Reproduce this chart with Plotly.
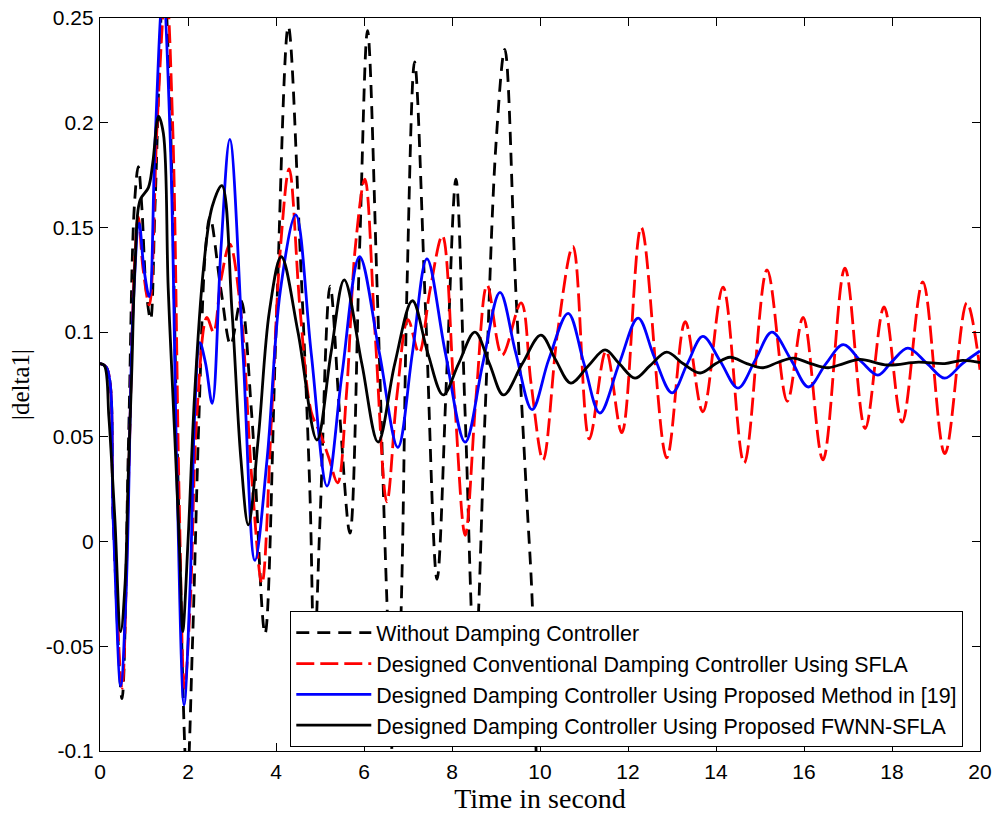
import plotly.graph_objects as go

# ---------------- data ----------------
names = [
    "Without Damping Controller",
    "Designed Conventional Damping Controller Using SFLA",
    "Designed Damping Controller Using Proposed Method in [19]",
    "Designed Damping Controller Using Proposed FWNN-SFLA",
]

t_nodamp = [0, 0.15, 0.3, 0.5, 0.65, 0.78, 0.87, 0.95, 1.05, 1.15, 1.25, 1.45, 1.6, 1.75,
            1.98, 2.1, 2.25, 2.4, 2.5, 2.75, 2.97, 3.2, 3.45, 3.75, 4.0, 4.28, 4.55, 4.77,
            4.87, 5.0, 5.23, 5.45, 5.68, 5.9, 6.08, 6.3, 6.52, 6.7, 6.85, 6.98, 7.15, 7.4,
            7.66, 7.88, 8.09, 8.3, 8.52, 8.75, 9.0, 9.2, 9.45, 9.7, 9.82, 9.93, 10.0]
v_nodamp = [0.085, 0.083, 0.01, -0.075, 0.05, 0.16, 0.179, 0.16, 0.12, 0.106, 0.16, 0.27, 0.2, 0.05,
            -0.115, -0.05, 0.06, 0.14, 0.155, 0.12, 0.094, 0.115, 0.06, -0.044, 0.1, 0.246, 0.138, 0.024,
            -0.055, 0.01, 0.122, 0.06, 0.004, 0.14, 0.244, 0.12, -0.028, -0.12, -0.028, 0.124, 0.229, 0.11,
            -0.018, 0.08, 0.173, 0.06, -0.06, 0.06, 0.19, 0.235, 0.12, 0.02, -0.027, -0.11, -0.13]

t_sfla = [0, 0.15, 0.3, 0.5, 0.65, 0.78, 0.87, 0.98, 1.12, 1.3, 1.5, 1.65, 1.8, 1.92, 2.05, 2.2,
          2.43, 2.58, 2.75, 2.95, 3.2, 3.45, 3.68, 3.9, 4.1, 4.3, 4.55, 4.8, 5.0, 5.2, 5.4, 5.6,
          5.8, 6.02, 6.25, 6.52, 6.75, 7.0, 7.25, 7.5, 7.78, 8.05, 8.3, 8.55, 8.8, 9.14, 9.57, 9.8,
          10.07, 10.4, 10.75, 11.12, 11.5, 11.86, 12.3, 12.88, 13.3, 13.7, 14.16, 14.64, 15.16,
          15.62, 15.98, 16.43, 16.93, 17.39, 17.82, 18.23, 18.7, 19.2, 19.7, 20.0]
v_sfla = [0.085, 0.083, 0.015, -0.07, 0.03, 0.13, 0.155, 0.13, 0.113, 0.2, 0.265, 0.2, 0.02, -0.07, -0.03, 0.06,
          0.107, 0.1, 0.125, 0.142, 0.11, 0.03, -0.02, 0.06, 0.14, 0.178, 0.11, 0.062, 0.052, 0.04, 0.028, 0.07,
          0.14, 0.173, 0.1, 0.019, 0.07, 0.106, 0.09, 0.12, 0.146, 0.07, 0.003, 0.07, 0.1225, 0.089, 0.114, 0.075,
          0.039, 0.1, 0.141, 0.049, 0.091, 0.052, 0.15, 0.04, 0.105, 0.062, 0.1215, 0.0375, 0.1297,
          0.067, 0.107, 0.039, 0.1306, 0.054, 0.112, 0.057, 0.124, 0.042, 0.114, 0.082]

t_ref19 = [0, 0.15, 0.3, 0.47, 0.6, 0.75, 0.89, 1.0, 1.12, 1.25, 1.43, 1.6, 1.75, 1.91, 2.05, 2.15,
           2.27, 2.4, 2.55, 2.75, 2.95, 3.25, 3.52, 3.8, 4.1, 4.45, 4.8, 5.16, 5.5, 5.9, 6.35, 6.77,
           7.1, 7.43, 7.85, 8.3, 8.7, 9.09, 9.45, 9.82, 10.2, 10.64, 11.0, 11.36, 11.8, 12.23, 12.6,
           13.0, 13.35, 13.7, 14.1, 14.5, 14.9, 15.27, 15.7, 16.1, 16.5, 16.89, 17.3, 17.68, 18.0,
           18.36, 18.8, 19.2, 19.6, 20.0]
v_ref19 = [0.085, 0.083, 0.01, -0.069, -0.02, 0.11, 0.152, 0.13, 0.117, 0.19, 0.262, 0.19, 0.03, -0.078, -0.02, 0.06,
           0.095, 0.085, 0.066, 0.14, 0.192, 0.09, -0.009, 0.04, 0.12, 0.156, 0.09, 0.0265, 0.08, 0.136, 0.09, 0.045,
           0.09, 0.135, 0.09, 0.0475, 0.085, 0.119, 0.09, 0.063, 0.087, 0.109, 0.085, 0.0614, 0.085, 0.1067, 0.088,
           0.071, 0.085, 0.098, 0.086, 0.0733, 0.087, 0.1, 0.087, 0.0738, 0.085, 0.094, 0.086, 0.0795, 0.086,
           0.0924, 0.085, 0.078, 0.085, 0.091]

t_fwnn = [0, 0.1, 0.2, 0.26, 0.34, 0.47, 0.57, 0.64, 0.72, 0.8, 0.91, 1.1, 1.2, 1.33, 1.44, 1.55,
          1.7, 1.82, 1.88, 2.0, 2.15, 2.35, 2.55, 2.77, 3.0, 3.2, 3.37, 3.6, 3.85, 4.12, 4.5, 4.93,
          5.25, 5.55, 5.95, 6.32, 6.7, 7.1, 7.45, 7.8, 8.15, 8.52, 8.85, 9.17, 9.6, 10.02, 10.35,
          10.7, 11.1, 11.48, 11.8, 12.16, 12.5, 12.88, 13.25, 13.64, 14.0, 14.32, 14.7, 15.07, 15.4,
          15.75, 16.15, 16.55, 16.9, 17.27, 17.9, 18.6, 19.2, 19.6, 20.0]
v_fwnn = [0.085, 0.084, 0.06, 0.04, 0.01, -0.043, -0.02, 0.03, 0.08, 0.134, 0.163, 0.169, 0.181, 0.203, 0.195, 0.121,
          0.05, -0.01, -0.043, 0.0, 0.07, 0.13, 0.16, 0.17, 0.11, 0.04, 0.008, 0.05, 0.11, 0.136, 0.1, 0.0485,
          0.09, 0.125, 0.085, 0.0475, 0.085, 0.115, 0.09, 0.07, 0.085, 0.1, 0.085, 0.07, 0.085, 0.0986, 0.087,
          0.0757, 0.084, 0.0915, 0.085, 0.078, 0.084, 0.0905, 0.085, 0.0805, 0.085, 0.088, 0.085, 0.083, 0.0855,
          0.0876, 0.085, 0.083, 0.085, 0.087, 0.0843, 0.0857, 0.085, 0.0865, 0.0855]

y_tickvals = [-0.1, -0.05, 0, 0.05, 0.1, 0.15, 0.2, 0.25]
y_ticktext = ["-0.1", "-0.05", "0", "0.05", "0.1", "0.15", "0.2", "0.25"]
x_tickvals = [0, 2, 4, 6, 8, 10, 12, 14, 16, 18, 20]

# ---------------- figure ----------------
series = [
    (t_nodamp, v_nodamp, "black", "13px,8px"),
    (t_sfla, v_sfla, "#ff0000", "18px,6px"),
    (t_ref19, v_ref19, "#0000ff", "solid"),
    (t_fwnn, v_fwnn, "black", "solid"),
]

fig = go.Figure()
for i, (tx, vy, col, dash) in enumerate(series):
    fig.add_trace(go.Scatter(
        x=tx, y=vy, mode="lines", name=names[i], legendgroup=f"g{i}",
        line=dict(color=col, width=2.8, dash=dash, shape="spline", smoothing=1.0),
    ))

axis_common = dict(
    showline=True, linecolor="black", linewidth=1.3, mirror="ticks",
    ticks="inside", ticklen=8, tickwidth=1, tickcolor="black",
    showgrid=False, zeroline=False, automargin=False, ticklabeloverflow="allow",
    tickfont=dict(family="Liberation Sans, Arial, sans-serif", size=21, color="black"),
)

fig.update_xaxes(range=[0, 20], tickvals=x_tickvals, ticklabelstandoff=2,
                 title=dict(text="Time in second", standoff=0,
                            font=dict(family="Liberation Serif, Times New Roman, serif", size=28, color="black")),
                 **axis_common)
fig.update_yaxes(range=[-0.1, 0.25], tickvals=y_tickvals, ticktext=y_ticktext, ticklabelstandoff=1,
                 title=dict(text="|delta1|", standoff=9,
                            font=dict(family="Liberation Serif, Times New Roman, serif", size=25, color="black")),
                 **axis_common)

fig.update_layout(
    width=994, height=818,
    margin=dict(l=100, r=14, t=18, b=67),
    paper_bgcolor="white", plot_bgcolor="white",
    legend=dict(x=0.2159, y=0.191, xanchor="left", yanchor="top",
                bgcolor="white", bordercolor="black", borderwidth=1.3,
                font=dict(family="Liberation Sans, Arial, sans-serif", size=21.4, color="black"),
                itemwidth=75, tracegroupgap=0, traceorder="normal"),
)

# remove the browser's default 8 px body margin so the figure fills the window exactly
fig.write_html("out.html", config={"displayModeBar": False},
               post_script="document.body.style.margin='0';")
